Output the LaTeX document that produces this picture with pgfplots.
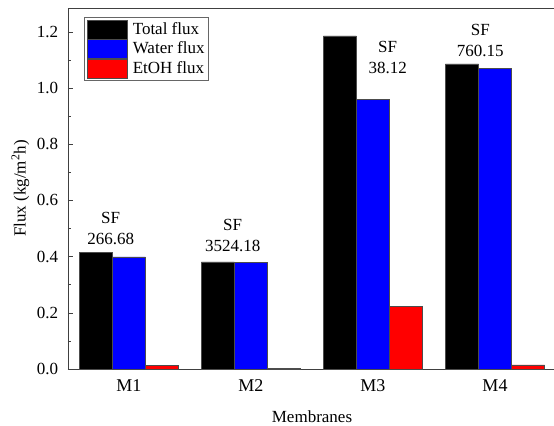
\documentclass[border=0pt]{standalone}
\usepackage{pgfplots}
\pgfplotsset{compat=1.18}
\usepackage{fontspec}
\setmainfont{Liberation Serif}
\definecolor{axgray}{RGB}{64,64,64}
\begin{document}
\fontsize{17bp}{21bp}\selectfont
\begin{tikzpicture}
\begin{axis}[name=ax, scale only axis, width=488bp, height=361bp,
  axis x line=box, axis y line=left,
  ybar=0pt, bar width=33bp,
  xmin=0.5, xmax=4.5, ymin=0, ymax=1.285,
  xtick={1,2,3,4}, xticklabels={M1,M2,M3,M4},
  ytick={0,0.2,0.4,0.6,0.8,1.0,1.2}, minor y tick num=1,
  tick align=inside,
  major tick length=5bp, minor tick length=3bp,
  xtick style={draw=none},
  ytick style={axgray, line width=0.6bp},
  axis line style={axgray, line width=0.8bp, -},
  /pgf/number format/.cd, fixed, fixed zerofill, precision=1, assume math mode=true,
  /pgfplots/.cd,
  yticklabel style={font=\fontsize{17bp}{20bp}\selectfont, xshift=-4bp},
  xticklabel style={font=\fontsize{18bp}{20bp}\selectfont, yshift=-5bp},
  label style={font=\fontsize{17bp}{20bp}\selectfont},
  xlabel style={yshift=-7bp},
  ylabel shift=-4bp,
  xlabel={Membranes},
  ylabel={Flux (kg/m\textsuperscript{2}h)},
  legend style={at={(0,1)}, anchor=north west, xshift=16bp, yshift=-9bp,
    draw=black!60, line width=0.6bp, inner sep=2.5bp, row sep=0pt, column sep=4bp,
    font=\fontsize{17bp}{20bp}\selectfont,
    nodes={inner sep=1.5bp}},
  legend cell align=left,
  legend image code/.code={\draw[#1] (0bp,-9.5bp) rectangle (40bp,9.5bp);},
  every axis plot/.append style={draw=black!70, line width=0.5bp},
]
\addplot[fill=black, draw=black!70] coordinates {(1,0.414) (2,0.381) (3,1.186) (4,1.086)};
\addplot[fill=blue, draw=black!70] coordinates {(1,0.399) (2,0.379) (3,0.960) (4,1.069)};
\addplot[fill=red, draw=black!70] coordinates {(1,0.013) (2,0.002) (3,0.224) (4,0.015)};
\legend{Total flux, Water flux, EtOH flux}
\node[align=center, font=\fontsize{17bp}{21bp}\selectfont] at (axis cs:0.85,0.500) {SF\\266.68};
\node[align=center, font=\fontsize{17bp}{21bp}\selectfont] at (axis cs:1.85,0.475) {SF\\3524.18};
\node[align=center, font=\fontsize{17bp}{21bp}\selectfont] at (axis cs:3.12,1.109) {SF\\38.12};
\node[align=center, font=\fontsize{17bp}{21bp}\selectfont] at (axis cs:3.88,1.170) {SF\\760.15};
\end{axis}
\pgfresetboundingbox
\path[use as bounding box] ([shift={(-68bp,-57bp)}]ax.south west) rectangle ([shift={(486bp,369bp)}]ax.south west);
\end{tikzpicture}
\end{document}
